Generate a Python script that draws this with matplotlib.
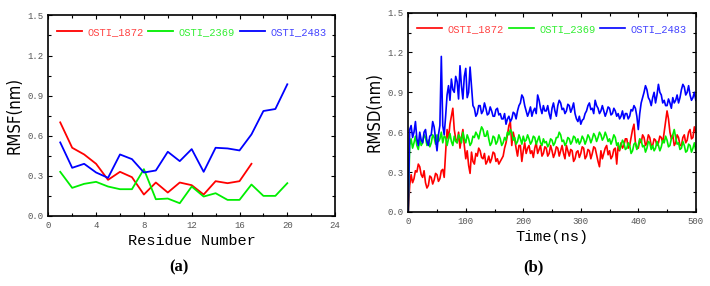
import numpy as np
import matplotlib.pyplot as plt
from matplotlib.ticker import MultipleLocator

# ---- panel (a): RMSF per residue ----
res_1872 = list(range(1, 18))
rmsf_1872 = [0.70, 0.51, 0.46, 0.39, 0.27, 0.33, 0.29, 0.16, 0.25, 0.175,
             0.25, 0.23, 0.16, 0.26, 0.245, 0.26, 0.39]
res_2369 = list(range(1, 21))
rmsf_2369 = [0.33, 0.21, 0.24, 0.255, 0.22, 0.20, 0.20, 0.35, 0.125, 0.13,
             0.095, 0.22, 0.145, 0.17, 0.12, 0.12, 0.235, 0.15, 0.15, 0.245]
res_2483 = list(range(1, 21))
rmsf_2483 = [0.55, 0.36, 0.39, 0.325, 0.285, 0.46, 0.425, 0.325, 0.34, 0.48,
             0.41, 0.50, 0.33, 0.51, 0.505, 0.49, 0.61, 0.785, 0.80, 0.985]

# ---- panel (b): RMSD over time, one value every 2.5 ns (10 per row = 25 ns) ----
time_ns = [i * 2.5 for i in range(201)]
rmsd_1872 = [0.00, 0.20, 0.28, 0.22, 0.25, 0.31, 0.30, 0.36, 0.34, 0.28,
             0.26, 0.31, 0.22, 0.18, 0.20, 0.27, 0.26, 0.21, 0.24, 0.29,
             0.28, 0.23, 0.25, 0.31, 0.32, 0.26, 0.45, 0.62, 0.55, 0.66,
             0.72, 0.78, 0.62, 0.55, 0.52, 0.60, 0.48, 0.56, 0.62, 0.50,
             0.40, 0.46, 0.35, 0.29, 0.45, 0.38, 0.36, 0.44, 0.42, 0.48,
             0.46, 0.41, 0.40, 0.44, 0.36, 0.38, 0.42, 0.37, 0.40, 0.45,
             0.44, 0.38, 0.40, 0.36, 0.38, 0.40, 0.42, 0.48, 0.52, 0.58,
             0.65, 0.68, 0.50, 0.60, 0.55, 0.48, 0.42, 0.50, 0.50, 0.38,
             0.46, 0.52, 0.44, 0.48, 0.50, 0.44, 0.46, 0.41, 0.48, 0.52,
             0.44, 0.47, 0.50, 0.42, 0.44, 0.49, 0.48, 0.42, 0.44, 0.50,
             0.46, 0.41, 0.44, 0.49, 0.48, 0.42, 0.46, 0.50, 0.44, 0.40,
             0.50, 0.46, 0.42, 0.47, 0.46, 0.38, 0.40, 0.45, 0.46, 0.41,
             0.44, 0.49, 0.48, 0.40, 0.42, 0.47, 0.46, 0.40, 0.44, 0.49,
             0.48, 0.43, 0.38, 0.34, 0.46, 0.40, 0.44, 0.48, 0.50, 0.43,
             0.46, 0.40, 0.42, 0.47, 0.48, 0.36, 0.50, 0.46, 0.52, 0.48,
             0.50, 0.55, 0.55, 0.48, 0.50, 0.56, 0.62, 0.66, 0.52, 0.48,
             0.48, 0.54, 0.52, 0.58, 0.56, 0.50, 0.52, 0.58, 0.56, 0.50,
             0.50, 0.55, 0.54, 0.50, 0.52, 0.57, 0.56, 0.52, 0.60, 0.68,
             0.76, 0.70, 0.60, 0.55, 0.58, 0.50, 0.52, 0.58, 0.56, 0.50,
             0.50, 0.56, 0.58, 0.52, 0.54, 0.60, 0.62, 0.55, 0.56, 0.64,
             0.60]
rmsd_2369 = [0.00, 0.50, 0.55, 0.48, 0.52, 0.57, 0.50, 0.47, 0.55, 0.50,
             0.52, 0.58, 0.56, 0.50, 0.54, 0.49, 0.52, 0.58, 0.56, 0.51,
             0.58, 0.53, 0.55, 0.60, 0.52, 0.57, 0.56, 0.50, 0.55, 0.59,
             0.53, 0.50, 0.57, 0.53, 0.52, 0.58, 0.56, 0.52, 0.60, 0.55,
             0.52, 0.58, 0.55, 0.50, 0.52, 0.57, 0.56, 0.60, 0.58, 0.55,
             0.60, 0.64, 0.62, 0.57, 0.57, 0.61, 0.55, 0.50, 0.52, 0.57,
             0.56, 0.51, 0.53, 0.58, 0.55, 0.50, 0.52, 0.56, 0.54, 0.60,
             0.58, 0.62, 0.60, 0.54, 0.56, 0.51, 0.53, 0.58, 0.55, 0.51,
             0.57, 0.53, 0.54, 0.58, 0.55, 0.51, 0.53, 0.57, 0.56, 0.51,
             0.54, 0.57, 0.52, 0.50, 0.55, 0.52, 0.53, 0.49, 0.51, 0.55,
             0.54, 0.50, 0.52, 0.56, 0.56, 0.60, 0.58, 0.53, 0.54, 0.50,
             0.52, 0.56, 0.55, 0.51, 0.53, 0.57, 0.56, 0.52, 0.55, 0.51,
             0.53, 0.57, 0.55, 0.51, 0.54, 0.58, 0.56, 0.52, 0.55, 0.59,
             0.57, 0.53, 0.56, 0.60, 0.58, 0.54, 0.56, 0.60, 0.57, 0.53,
             0.55, 0.51, 0.54, 0.58, 0.56, 0.50, 0.52, 0.47, 0.50, 0.54,
             0.52, 0.47, 0.48, 0.52, 0.50, 0.44, 0.46, 0.51, 0.52, 0.47,
             0.50, 0.55, 0.54, 0.49, 0.50, 0.45, 0.48, 0.53, 0.52, 0.47,
             0.50, 0.46, 0.48, 0.53, 0.50, 0.46, 0.49, 0.54, 0.52, 0.57,
             0.54, 0.49, 0.50, 0.55, 0.58, 0.62, 0.56, 0.51, 0.52, 0.47,
             0.48, 0.53, 0.50, 0.45, 0.46, 0.51, 0.50, 0.45, 0.48, 0.52,
             0.46]
rmsd_2483 = [0.00, 0.62, 0.65, 0.56, 0.60, 0.68, 0.55, 0.50, 0.60, 0.54,
             0.52, 0.60, 0.62, 0.53, 0.50, 0.57, 0.58, 0.68, 0.64, 0.55,
             0.46, 0.58, 0.65, 1.17, 0.65, 0.58, 0.72, 0.88, 0.95, 0.84,
             1.00, 0.92, 0.90, 1.02, 0.98, 0.85, 1.10, 0.95, 0.85, 1.02,
             1.08, 0.86, 0.90, 1.09, 0.95, 0.80, 0.78, 0.72, 0.74, 0.80,
             0.80, 0.74, 0.76, 0.82, 0.78, 0.73, 0.74, 0.79, 0.76, 0.72,
             0.72, 0.77, 0.78, 0.73, 0.74, 0.70, 0.70, 0.74, 0.66, 0.70,
             0.72, 0.68, 0.70, 0.75, 0.74, 0.70, 0.76, 0.80, 0.82, 0.88,
             0.86, 0.80, 0.76, 0.72, 0.75, 0.79, 0.72, 0.76, 0.78, 0.74,
             0.88, 0.84, 0.78, 0.74, 0.80, 0.76, 0.76, 0.80, 0.74, 0.70,
             0.78, 0.82, 0.76, 0.72, 0.80, 0.84, 0.82, 0.77, 0.78, 0.74,
             0.76, 0.81, 0.80, 0.75, 0.78, 0.82, 0.74, 0.70, 0.68, 0.72,
             0.66, 0.69, 0.70, 0.74, 0.76, 0.80, 0.82, 0.77, 0.78, 0.74,
             0.84, 0.80, 0.78, 0.74, 0.76, 0.80, 0.76, 0.72, 0.75, 0.79,
             0.78, 0.73, 0.74, 0.78, 0.76, 0.72, 0.74, 0.70, 0.72, 0.76,
             0.70, 0.74, 0.74, 0.70, 0.72, 0.77, 0.76, 0.80, 0.78, 0.72,
             0.62, 0.74, 0.82, 0.86, 0.90, 0.95, 0.92, 0.86, 0.84, 0.80,
             0.86, 0.90, 0.82, 0.88, 0.96, 0.90, 0.88, 0.82, 0.84, 0.80,
             0.80, 0.85, 0.82, 0.78, 0.86, 0.82, 0.84, 0.88, 0.82, 0.86,
             0.92, 0.96, 0.94, 0.88, 0.90, 0.95, 0.88, 0.84, 0.86, 0.90,
             0.84]

names = ["OSTI_1872", "OSTI_2369", "OSTI_2483"]
colors = ["#ff0000", "#00ee00", "#0000ff"]
legend_text_colors = ["#ff4444", "#33ee33", "#4444ff"]

mono = ["Liberation Mono", "DejaVu Sans Mono"]
tickgray = "#555555"


def style_axes(ax):
    # ticks inward on all four sides, major + minor
    ax.tick_params(which="both", direction="in", top=True, right=True,
                   labelsize=6.5, labelcolor=tickgray, width=0.8)
    ax.tick_params(which="major", length=3)
    ax.tick_params(which="minor", length=2)
    for lab in ax.get_xticklabels() + ax.get_yticklabels():
        lab.set_fontfamily(mono)
    for sp in ax.spines.values():
        sp.set_linewidth(1.2)


def add_legend(ax):
    leg = ax.legend(loc="upper center", ncol=3, frameon=False,
                    prop={"family": mono, "size": 7.5}, handlelength=2.4,
                    handletextpad=0.5, columnspacing=0.5,
                    bbox_to_anchor=(0.5, 0.99))
    for txt, c in zip(leg.get_texts(), legend_text_colors):
        txt.set_color(c)


def set_ylab(ax, text):
    ax.set_ylabel(text, family="DejaVu Sans", fontstretch="condensed",
                  fontsize=12, labelpad=3)


fig = plt.figure(figsize=(7.1, 2.86), dpi=100)

# (a) RMSF
axa = fig.add_axes([0.068, 0.245, 0.404, 0.701])
axa.plot(res_1872, rmsf_1872, color=colors[0], lw=1.3, label=names[0])
axa.plot(res_2369, rmsf_2369, color=colors[1], lw=1.3, label=names[1])
axa.plot(res_2483, rmsf_2483, color=colors[2], lw=1.3, label=names[2])
axa.set_xlim(0, 24)
axa.set_ylim(0, 1.5)
axa.xaxis.set_major_locator(MultipleLocator(4))
axa.xaxis.set_minor_locator(MultipleLocator(2))
axa.yaxis.set_major_locator(MultipleLocator(0.3))
axa.yaxis.set_minor_locator(MultipleLocator(0.15))
axa.set_yticklabels(["%.1f" % v for v in axa.get_yticks()])
style_axes(axa)
add_legend(axa)
axa.set_xlabel("Residue Number", family=mono, fontsize=11, labelpad=3)
set_ylab(axa, "RMSF(nm)")

# (b) RMSD
axb = fig.add_axes([0.575, 0.259, 0.405, 0.697])
axb.plot(time_ns, rmsd_1872, color=colors[0], lw=1.2, label=names[0])
axb.plot(time_ns, rmsd_2369, color=colors[1], lw=1.2, label=names[1])
axb.plot(time_ns, rmsd_2483, color=colors[2], lw=1.2, label=names[2])
axb.set_xlim(0, 500)
axb.set_ylim(0, 1.5)
axb.xaxis.set_major_locator(MultipleLocator(100))
axb.xaxis.set_minor_locator(MultipleLocator(50))
axb.yaxis.set_major_locator(MultipleLocator(0.3))
axb.yaxis.set_minor_locator(MultipleLocator(0.15))
axb.set_yticklabels(["%.1f" % v for v in axb.get_yticks()])
style_axes(axb)
add_legend(axb)
axb.set_xlabel("Time(ns)", family=mono, fontsize=11, labelpad=3)
set_ylab(axb, "RMSD(nm)")

# panel captions
fig.text(0.252, 0.066, "(a)", ha="center", va="center",
         family="Liberation Serif", fontsize=12, fontweight="bold")
fig.text(0.752, 0.066, "(b)", ha="center", va="center",
         family="Liberation Serif", fontsize=12, fontweight="bold")

fig.savefig("out.png", dpi=100)
